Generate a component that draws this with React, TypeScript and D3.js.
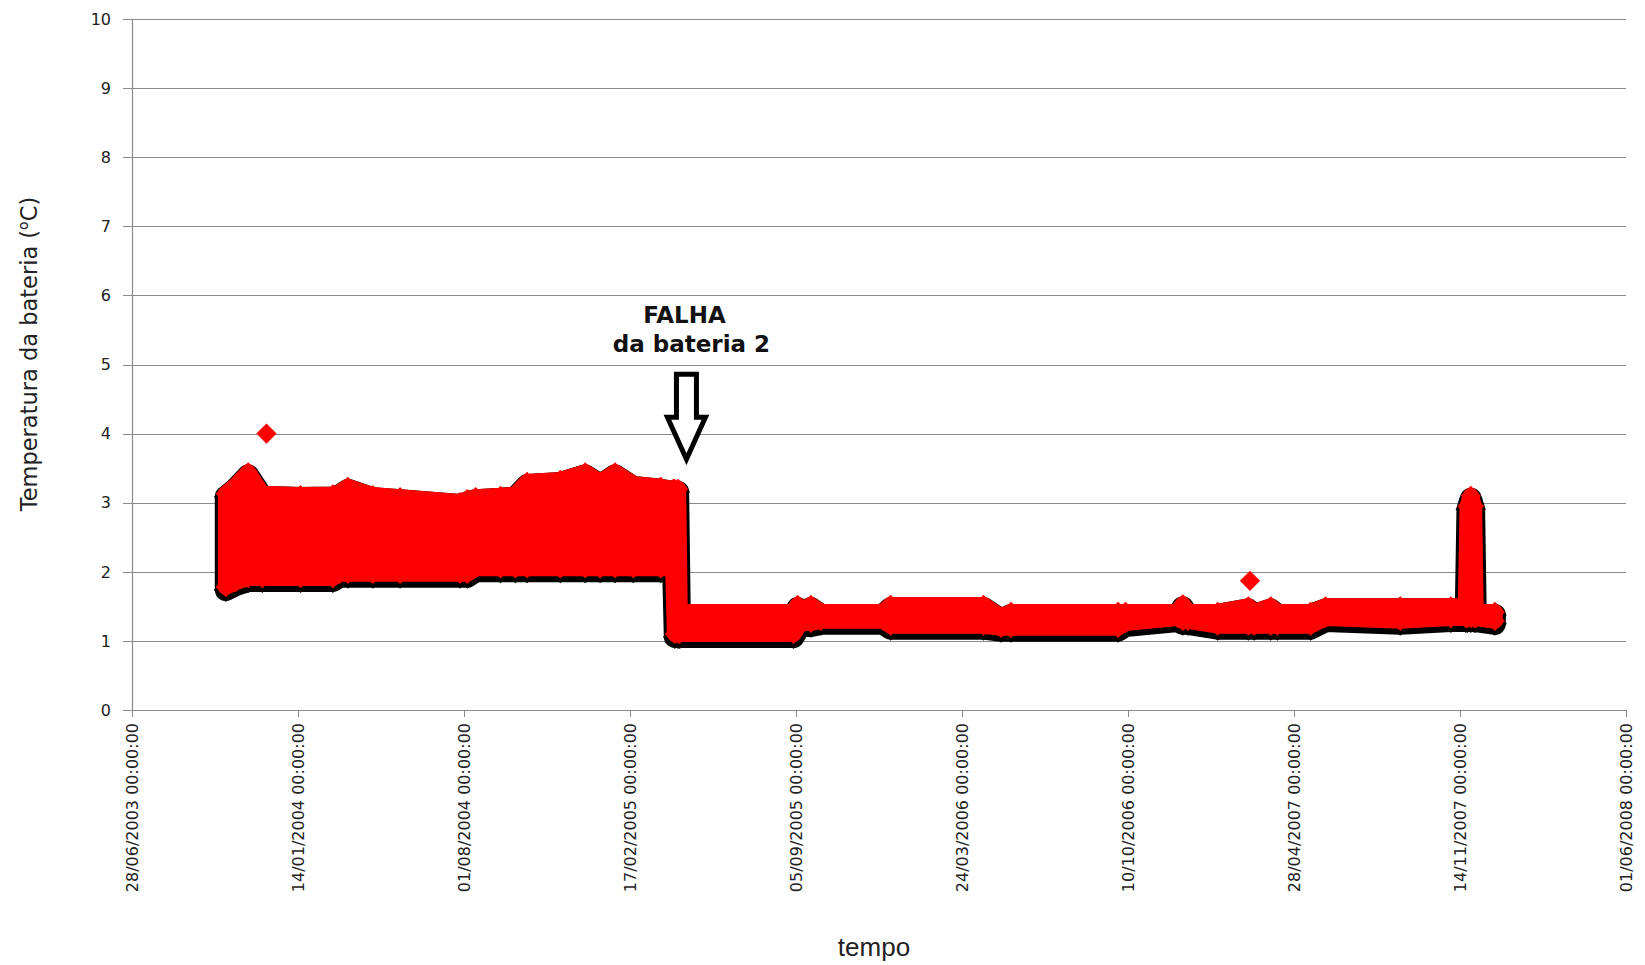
import React from "react";
import * as d3 from "d3";

const LARGURA = 1645;
const ALTURA = 965;

// Eixo X: marcas a cada 200 dias
const datasEixoX = [
  "2003-06-28", "2004-01-14", "2004-08-01", "2005-02-17", "2005-09-05",
  "2006-03-24", "2006-10-10", "2007-04-28", "2007-11-14", "2008-06-01",
];
const valoresEixoY = [0, 1, 2, 3, 4, 5, 6, 7, 8, 9, 10];

// Envoltória da nuvem de pontos (centros dos marcadores)
const datas = [
  "2003-10-19", "2003-10-31", "2003-11-15", "2003-12-02", "2004-01-17",
  "2004-02-25", "2004-03-04", "2004-03-14", "2004-04-13", "2004-05-16",
  "2004-07-27", "2004-08-05", "2004-08-15", "2004-09-14", "2004-10-02",
  "2004-10-16", "2004-11-25", "2004-12-25", "2005-01-12", "2005-01-30",
  "2005-02-21", "2005-03-26", "2005-04-10", "2005-04-12", "2005-04-16",
  "2005-04-18", "2005-09-02", "2005-09-07", "2005-09-13", "2005-09-23",
  "2005-10-05", "2005-12-19", "2005-12-28", "2006-04-19", "2006-05-10",
  "2006-05-22", "2006-09-28", "2006-10-07", "2006-12-09", "2006-12-15",
  "2006-12-21", "2007-01-26", "2007-03-04", "2007-03-11", "2007-03-31",
  "2007-04-08", "2007-05-18", "2007-06-05", "2007-09-03", "2007-11-03",
  "2007-11-21", "2007-11-23", "2007-11-27", "2007-12-01", "2007-12-03",
  "2007-12-26",
];
const maximos = [
  3.13, 3.25, 3.44, 3.13, 3.11,
  3.12, 3.15, 3.23, 3.11, 3.08,
  3.01, 3.05, 3.08, 3.10, 3.12,
  3.30, 3.33, 3.44, 3.30, 3.44,
  3.27, 3.23, 3.20, 3.20, 3.20,
  1.42, 1.42, 1.52, 1.45, 1.52,
  1.42, 1.42, 1.52, 1.52, 1.35,
  1.42, 1.42, 1.42, 1.42, 1.53,
  1.42, 1.42, 1.50, 1.42, 1.50,
  1.42, 1.42, 1.50, 1.50, 1.50,
  1.50, 2.95, 3.10, 2.95, 1.42,
  1.42,
];
const minimos = [
  1.78, 1.85, 1.91, 1.91, 1.91,
  1.91, 1.97, 1.97, 1.97, 1.97,
  1.97, 1.97, 2.05, 2.05, 2.05,
  2.05, 2.05, 2.05, 2.05, 2.05,
  2.05, 2.05, 2.05, 1.10, 1.10,
  1.10, 1.10, 1.20, 1.26, 1.26,
  1.29, 1.29, 1.22, 1.22, 1.19,
  1.19, 1.19, 1.26, 1.33, 1.29,
  1.29, 1.22, 1.22, 1.22, 1.22,
  1.22, 1.22, 1.33, 1.29, 1.33,
  1.33, 1.33, 1.33, 1.33, 1.33,
  1.29,
];

// Pontos isolados
const atipicosDatas = ["2003-12-07", "2007-03-06"];
const atipicosValores = [4.0, 1.87];

// Anotação
const falhaData = "2005-04-26";
const falhaValorPonta = 3.63;

const parse = d3.timeParse("%Y-%m-%d");
const fmt = d3.timeFormat("%d/%m/%Y %H:%M:%S");

const ESQ = 132;
const DIR = 1626;
const TOPO = 19;
const BASE = 710;

type Linha = { data: Date; max: number; min: number };

export default function App() {
  const x = d3
    .scaleTime()
    .domain([parse(datasEixoX[0])!, parse(datasEixoX[datasEixoX.length - 1])!])
    .range([ESQ, DIR]);
  const y = d3.scaleLinear().domain([0, 10]).range([BASE, TOPO]);

  const linhas: Linha[] = datas.map((d, i) => ({
    data: parse(d)!,
    max: maximos[i],
    min: minimos[i],
  }));

  const area = d3
    .area<Linha>()
    .x((d) => x(d.data))
    .y0((d) => y(d.min))
    .y1((d) => y(d.max));
  const caminho = area(linhas) || "";

  const diamante = d3.symbol().type(d3.symbolSquare).size(205)() || "";
  const diamanteSombra = d3.symbol().type(d3.symbolSquare).size(285)() || "";

  const marcadores: [number, number][] = [];
  linhas.forEach((l) => {
    marcadores.push([x(l.data), y(l.max)]);
    marcadores.push([x(l.data), y(l.min)]);
  });

  const atipicos = atipicosDatas.map((d, i) => [x(parse(d)!), y(atipicosValores[i])]);

  const cx = x(parse(falhaData)!);
  const ty = y(falhaValorPonta);
  const seta = [
    [cx - 10, ty - 85],
    [cx + 10, ty - 85],
    [cx + 10, ty - 42],
    [cx + 19, ty - 42],
    [cx, ty],
    [cx - 19, ty - 42],
    [cx - 10, ty - 42],
  ];
  const setaPath = "M" + seta.map((p) => p.join(",")).join("L") + "Z";

  const corGrade = "#8a8a8a";
  const fonteEixo = "'DejaVu Sans', Verdana, sans-serif";

  return (
    <svg
      width={LARGURA}
      height={ALTURA}
      style={{ position: "absolute", left: 0, top: 0, display: "block", background: "#fff" }}
    >
      <rect x={0} y={0} width={LARGURA} height={ALTURA} fill="#fff" />
      {/* grade horizontal */}
      {valoresEixoY.map((v) => {
        const yy = Math.round(y(v)) + 0.5;
        return (
          <line key={"g" + v} x1={ESQ - 9} x2={DIR} y1={yy} y2={yy} stroke={corGrade} strokeWidth={1} />
        );
      })}
      {/* eixo Y */}
      <line x1={ESQ + 0.5} x2={ESQ + 0.5} y1={TOPO} y2={BASE + 1} stroke={corGrade} strokeWidth={1.2} />
      {valoresEixoY.map((v) => (
        <text
          key={"ty" + v}
          x={111}
          y={y(v)}
          dy="0.36em"
          textAnchor="end"
          fontFamily={fonteEixo}
          fontSize={16}
          fill="#222"
        >
          {v}
        </text>
      ))}
      {/* eixo X */}
      <line x1={ESQ} x2={DIR} y1={BASE + 0.5} y2={BASE + 0.5} stroke={corGrade} strokeWidth={1.2} />
      {datasEixoX.map((d) => {
        const xx = Math.round(x(parse(d)!)) + 0.5;
        return (
          <g key={"tx" + d}>
            <line x1={xx} x2={xx} y1={BASE} y2={BASE + 7} stroke={corGrade} strokeWidth={1} />
            <text
              transform={`translate(${xx},${BASE + 13}) rotate(-90)`}
              dy="0.36em"
              textAnchor="end"
              fontFamily={fonteEixo}
              fontSize={16}
              fill="#222"
            >
              {fmt(parse(d)!)}
            </text>
          </g>
        );
      })}

      {/* sombra da série */}
      <g transform="translate(0,3)">
        <path d={caminho} fill="#000" stroke="#000" strokeWidth={22} strokeLinejoin="round" />
        {marcadores.map((m, i) => (
          <path key={"s" + i} d={diamanteSombra} transform={`translate(${m[0]},${m[1]}) rotate(45)`} fill="#000" />
        ))}
      </g>
      {/* série */}
      <path d={caminho} fill="#ff0000" stroke="#ff0000" strokeWidth={16} strokeLinejoin="round" />
      {marcadores.map((m, i) => (
        <path key={"m" + i} d={diamante} transform={`translate(${m[0]},${m[1]}) rotate(45)`} fill="#ff0000" />
      ))}
      {atipicos.map((m, i) => (
        <path key={"a" + i} d={diamante} transform={`translate(${m[0]},${m[1]}) rotate(45)`} fill="#ff0000" />
      ))}

      {/* anotação */}
      <path d={setaPath} fill="#fff" stroke="#000" strokeWidth={5} strokeLinejoin="miter" />
      <text
        x={cx - 2}
        y={ty - 136}
        textAnchor="middle"
        fontFamily={fonteEixo}
        fontWeight="bold"
        fontSize={23}
        fill="#111"
      >
        FALHA
      </text>
      <text
        x={cx + 5}
        y={ty - 107}
        textAnchor="middle"
        fontFamily={fonteEixo}
        fontWeight="bold"
        fontSize={23}
        fill="#111"
      >
        da bateria 2
      </text>

      {/* títulos */}
      <text
        transform={`translate(37,354) rotate(-90)`}
        textAnchor="middle"
        fontFamily={fonteEixo}
        fontSize={22.5}
        fill="#222"
      >
        Temperatura da bateria (
        <tspan dy={-9} fontSize={14}>o</tspan>
        <tspan dy={9}>C)</tspan>
      </text>
      <text
        x={874}
        y={956}
        textAnchor="middle"
        fontFamily="'Liberation Sans', Arial, sans-serif"
        fontSize={26}
        fill="#222"
      >
        tempo
      </text>
    </svg>
  );
}
